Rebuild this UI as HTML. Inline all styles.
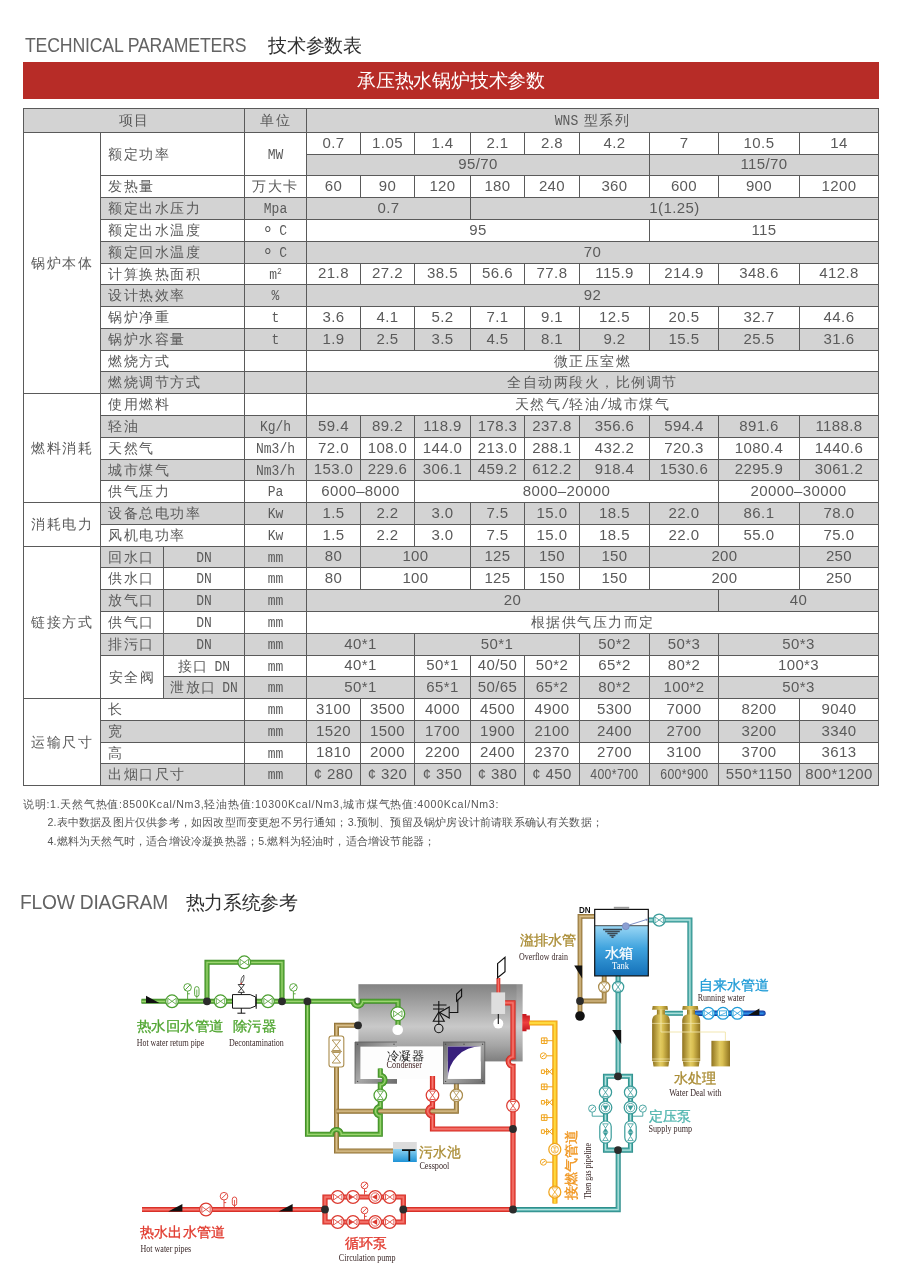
<!DOCTYPE html>
<html lang="zh"><head><meta charset="utf-8"><title>Technical Parameters</title>
<style>
html,body{margin:0;padding:0;background:#fff;}
body{width:902px;height:1280px;position:relative;overflow:hidden;font-family:"Liberation Sans",sans-serif;color:#4f4f4f;}
.h1{position:absolute;left:23px;white-space:nowrap;color:#636363;font-size:19.5px;line-height:24px;letter-spacing:-0.2px}
.h1 b{font-weight:normal;color:#2f2f2f;font-size:18.5px;letter-spacing:0;position:absolute;top:0}
.sx{display:inline-block;transform:scaleX(0.9);transform-origin:0 50%}
.banner{position:absolute;left:23px;top:62px;width:856px;height:37px;background:#b72c27;color:#fff;text-align:center;font-size:18.6px;line-height:37px;letter-spacing:-0.2px}
.c{position:absolute;box-sizing:border-box;border:1px solid #5a5a5a;background:#fff;text-align:center;font-size:14.3px;letter-spacing:1.5px;white-space:nowrap;overflow:hidden;color:#5a5a5a;font-weight:300}
.c.g{background:#d3d3d3}
.c.l{text-align:left;padding-left:7px}
.c>i{font-style:normal;position:relative;top:-0.5px}
.deg{font-size:19px;line-height:0;position:relative;top:4.5px;font-family:"Liberation Sans",sans-serif}
.m{font-family:"Liberation Mono",monospace;font-size:13px;letter-spacing:0;display:inline-block;transform:scaleY(1.08);transform-origin:50% 60%;white-space:pre;font-weight:400}
.d{font-size:15px;letter-spacing:0.4px;font-weight:400;white-space:pre;position:relative;top:-1px}
.m sup{font-size:8px;vertical-align:baseline;position:relative;top:-5px;line-height:0}
.note{position:absolute;white-space:nowrap;font-size:10.6px;line-height:14px;color:#555;letter-spacing:0.1px}
#dg{position:absolute;left:0;top:880px}
#tb{position:absolute;left:0;top:0;width:902px;height:0;will-change:transform}
</style></head><body>
<div id="tb">
<div class="h1" style="top:33px;left:24.5px"><span class="sx" style="transform:scaleX(0.907)">TECHNICAL PARAMETERS</span><b style="left:243.5px;top:1px;font-size:18.5px;letter-spacing:-0.2px">技术参数表</b></div>
<div class="banner">承压热水锅炉技术参数</div>
<div class="c g" style="left:23px;top:108px;width:222px;height:25px;line-height:23px"><i>项目</i></div>
<div class="c g" style="left:244px;top:108px;width:63px;height:25px;line-height:23px"><i>单位</i></div>
<div class="c g" style="left:306px;top:108px;width:573px;height:25px;line-height:23px"><i><span class="m">WNS</span> 型系列</i></div>
<div class="c" style="left:23px;top:132px;width:78px;height:262px;line-height:260px"><i>锅炉本体</i></div>
<div class="c" style="left:23px;top:393px;width:78px;height:110px;line-height:108px"><i>燃料消耗</i></div>
<div class="c" style="left:23px;top:502px;width:78px;height:45px;line-height:43px"><i>消耗电力</i></div>
<div class="c" style="left:23px;top:546px;width:78px;height:153px;line-height:151px"><i>链接方式</i></div>
<div class="c" style="left:23px;top:698px;width:78px;height:88px;line-height:86px"><i>运输尺寸</i></div>
<div class="c l" style="left:100px;top:132px;width:145px;height:44px;line-height:42px"><i>额定功率</i></div>
<div class="c" style="left:244px;top:132px;width:63px;height:44px;line-height:42px"><span class="m">MW</span></div>
<div class="c" style="left:306px;top:132px;width:55px;height:23px;line-height:21px"><span class="d">0.7</span></div>
<div class="c" style="left:360px;top:132px;width:55px;height:23px;line-height:21px"><span class="d">1.05</span></div>
<div class="c" style="left:414px;top:132px;width:57px;height:23px;line-height:21px"><span class="d">1.4</span></div>
<div class="c" style="left:470px;top:132px;width:55px;height:23px;line-height:21px"><span class="d">2.1</span></div>
<div class="c" style="left:524px;top:132px;width:56px;height:23px;line-height:21px"><span class="d">2.8</span></div>
<div class="c" style="left:579px;top:132px;width:71px;height:23px;line-height:21px"><span class="d">4.2</span></div>
<div class="c" style="left:649px;top:132px;width:70px;height:23px;line-height:21px"><span class="d">7</span></div>
<div class="c" style="left:718px;top:132px;width:82px;height:23px;line-height:21px"><span class="d">10.5</span></div>
<div class="c" style="left:799px;top:132px;width:80px;height:23px;line-height:21px"><span class="d">14</span></div>
<div class="c g" style="left:306px;top:154px;width:344px;height:22px;line-height:20px"><span class="d">95/70</span></div>
<div class="c g" style="left:649px;top:154px;width:230px;height:22px;line-height:20px"><span class="d">115/70</span></div>
<div class="c l" style="left:100px;top:175px;width:145px;height:23px;line-height:21px"><i>发热量</i></div>
<div class="c" style="left:244px;top:175px;width:63px;height:23px;line-height:21px"><i>万大卡</i></div>
<div class="c" style="left:306px;top:175px;width:55px;height:23px;line-height:21px"><span class="d">60</span></div>
<div class="c" style="left:360px;top:175px;width:55px;height:23px;line-height:21px"><span class="d">90</span></div>
<div class="c" style="left:414px;top:175px;width:57px;height:23px;line-height:21px"><span class="d">120</span></div>
<div class="c" style="left:470px;top:175px;width:55px;height:23px;line-height:21px"><span class="d">180</span></div>
<div class="c" style="left:524px;top:175px;width:56px;height:23px;line-height:21px"><span class="d">240</span></div>
<div class="c" style="left:579px;top:175px;width:71px;height:23px;line-height:21px"><span class="d">360</span></div>
<div class="c" style="left:649px;top:175px;width:70px;height:23px;line-height:21px"><span class="d">600</span></div>
<div class="c" style="left:718px;top:175px;width:82px;height:23px;line-height:21px"><span class="d">900</span></div>
<div class="c" style="left:799px;top:175px;width:80px;height:23px;line-height:21px"><span class="d">1200</span></div>
<div class="c g l" style="left:100px;top:197px;width:145px;height:23px;line-height:21px"><i>额定出水压力</i></div>
<div class="c g" style="left:244px;top:197px;width:63px;height:23px;line-height:21px"><span class="m">Mpa</span></div>
<div class="c g" style="left:306px;top:197px;width:165px;height:23px;line-height:21px"><span class="d">0.7</span></div>
<div class="c g" style="left:470px;top:197px;width:409px;height:23px;line-height:21px"><span class="d">1(1.25)</span></div>
<div class="c l" style="left:100px;top:219px;width:145px;height:23px;line-height:21px"><i>额定出水温度</i></div>
<div class="c" style="left:244px;top:219px;width:63px;height:23px;line-height:21px"><span class="m"><span class="deg">°</span> C</span></div>
<div class="c" style="left:306px;top:219px;width:344px;height:23px;line-height:21px"><span class="d">95</span></div>
<div class="c" style="left:649px;top:219px;width:230px;height:23px;line-height:21px"><span class="d">115</span></div>
<div class="c g l" style="left:100px;top:241px;width:145px;height:23px;line-height:21px"><i>额定回水温度</i></div>
<div class="c g" style="left:244px;top:241px;width:63px;height:23px;line-height:21px"><span class="m"><span class="deg">°</span> C</span></div>
<div class="c g" style="left:306px;top:241px;width:573px;height:23px;line-height:21px"><span class="d">70</span></div>
<div class="c l" style="left:100px;top:263px;width:145px;height:22px;line-height:20px"><i>计算换热面积</i></div>
<div class="c" style="left:244px;top:263px;width:63px;height:22px;line-height:20px"><span class="m">m<sup>2</sup></span></div>
<div class="c" style="left:306px;top:263px;width:55px;height:22px;line-height:20px"><span class="d">21.8</span></div>
<div class="c" style="left:360px;top:263px;width:55px;height:22px;line-height:20px"><span class="d">27.2</span></div>
<div class="c" style="left:414px;top:263px;width:57px;height:22px;line-height:20px"><span class="d">38.5</span></div>
<div class="c" style="left:470px;top:263px;width:55px;height:22px;line-height:20px"><span class="d">56.6</span></div>
<div class="c" style="left:524px;top:263px;width:56px;height:22px;line-height:20px"><span class="d">77.8</span></div>
<div class="c" style="left:579px;top:263px;width:71px;height:22px;line-height:20px"><span class="d">115.9</span></div>
<div class="c" style="left:649px;top:263px;width:70px;height:22px;line-height:20px"><span class="d">214.9</span></div>
<div class="c" style="left:718px;top:263px;width:82px;height:22px;line-height:20px"><span class="d">348.6</span></div>
<div class="c" style="left:799px;top:263px;width:80px;height:22px;line-height:20px"><span class="d">412.8</span></div>
<div class="c g l" style="left:100px;top:284px;width:145px;height:23px;line-height:21px"><i>设计热效率</i></div>
<div class="c g" style="left:244px;top:284px;width:63px;height:23px;line-height:21px"><span class="m">%</span></div>
<div class="c g" style="left:306px;top:284px;width:573px;height:23px;line-height:21px"><span class="d">92</span></div>
<div class="c l" style="left:100px;top:306px;width:145px;height:23px;line-height:21px"><i>锅炉净重</i></div>
<div class="c" style="left:244px;top:306px;width:63px;height:23px;line-height:21px"><span class="m">t</span></div>
<div class="c" style="left:306px;top:306px;width:55px;height:23px;line-height:21px"><span class="d">3.6</span></div>
<div class="c" style="left:360px;top:306px;width:55px;height:23px;line-height:21px"><span class="d">4.1</span></div>
<div class="c" style="left:414px;top:306px;width:57px;height:23px;line-height:21px"><span class="d">5.2</span></div>
<div class="c" style="left:470px;top:306px;width:55px;height:23px;line-height:21px"><span class="d">7.1</span></div>
<div class="c" style="left:524px;top:306px;width:56px;height:23px;line-height:21px"><span class="d">9.1</span></div>
<div class="c" style="left:579px;top:306px;width:71px;height:23px;line-height:21px"><span class="d">12.5</span></div>
<div class="c" style="left:649px;top:306px;width:70px;height:23px;line-height:21px"><span class="d">20.5</span></div>
<div class="c" style="left:718px;top:306px;width:82px;height:23px;line-height:21px"><span class="d">32.7</span></div>
<div class="c" style="left:799px;top:306px;width:80px;height:23px;line-height:21px"><span class="d">44.6</span></div>
<div class="c g l" style="left:100px;top:328px;width:145px;height:23px;line-height:21px"><i>锅炉水容量</i></div>
<div class="c g" style="left:244px;top:328px;width:63px;height:23px;line-height:21px"><span class="m">t</span></div>
<div class="c g" style="left:306px;top:328px;width:55px;height:23px;line-height:21px"><span class="d">1.9</span></div>
<div class="c g" style="left:360px;top:328px;width:55px;height:23px;line-height:21px"><span class="d">2.5</span></div>
<div class="c g" style="left:414px;top:328px;width:57px;height:23px;line-height:21px"><span class="d">3.5</span></div>
<div class="c g" style="left:470px;top:328px;width:55px;height:23px;line-height:21px"><span class="d">4.5</span></div>
<div class="c g" style="left:524px;top:328px;width:56px;height:23px;line-height:21px"><span class="d">8.1</span></div>
<div class="c g" style="left:579px;top:328px;width:71px;height:23px;line-height:21px"><span class="d">9.2</span></div>
<div class="c g" style="left:649px;top:328px;width:70px;height:23px;line-height:21px"><span class="d">15.5</span></div>
<div class="c g" style="left:718px;top:328px;width:82px;height:23px;line-height:21px"><span class="d">25.5</span></div>
<div class="c g" style="left:799px;top:328px;width:80px;height:23px;line-height:21px"><span class="d">31.6</span></div>
<div class="c l" style="left:100px;top:350px;width:145px;height:22px;line-height:20px"><i>燃烧方式</i></div>
<div class="c" style="left:244px;top:350px;width:63px;height:22px;line-height:20px"></div>
<div class="c" style="left:306px;top:350px;width:573px;height:22px;line-height:20px"><i>微正压室燃</i></div>
<div class="c g l" style="left:100px;top:371px;width:145px;height:23px;line-height:21px"><i>燃烧调节方式</i></div>
<div class="c g" style="left:244px;top:371px;width:63px;height:23px;line-height:21px"></div>
<div class="c g" style="left:306px;top:371px;width:573px;height:23px;line-height:21px"><i>全自动两段火，比例调节</i></div>
<div class="c l" style="left:100px;top:393px;width:145px;height:23px;line-height:21px"><i>使用燃料</i></div>
<div class="c" style="left:244px;top:393px;width:63px;height:23px;line-height:21px"></div>
<div class="c" style="left:306px;top:393px;width:573px;height:23px;line-height:21px"><i>天然气<span class="m">/</span>轻油<span class="m">/</span>城市煤气</i></div>
<div class="c g l" style="left:100px;top:415px;width:145px;height:23px;line-height:21px"><i>轻油</i></div>
<div class="c g" style="left:244px;top:415px;width:63px;height:23px;line-height:21px"><span class="m">Kg/h</span></div>
<div class="c g" style="left:306px;top:415px;width:55px;height:23px;line-height:21px"><span class="d">59.4</span></div>
<div class="c g" style="left:360px;top:415px;width:55px;height:23px;line-height:21px"><span class="d">89.2</span></div>
<div class="c g" style="left:414px;top:415px;width:57px;height:23px;line-height:21px"><span class="d">118.9</span></div>
<div class="c g" style="left:470px;top:415px;width:55px;height:23px;line-height:21px"><span class="d">178.3</span></div>
<div class="c g" style="left:524px;top:415px;width:56px;height:23px;line-height:21px"><span class="d">237.8</span></div>
<div class="c g" style="left:579px;top:415px;width:71px;height:23px;line-height:21px"><span class="d">356.6</span></div>
<div class="c g" style="left:649px;top:415px;width:70px;height:23px;line-height:21px"><span class="d">594.4</span></div>
<div class="c g" style="left:718px;top:415px;width:82px;height:23px;line-height:21px"><span class="d">891.6</span></div>
<div class="c g" style="left:799px;top:415px;width:80px;height:23px;line-height:21px"><span class="d">1188.8</span></div>
<div class="c l" style="left:100px;top:437px;width:145px;height:23px;line-height:21px"><i>天然气</i></div>
<div class="c" style="left:244px;top:437px;width:63px;height:23px;line-height:21px"><span class="m">Nm3/h</span></div>
<div class="c" style="left:306px;top:437px;width:55px;height:23px;line-height:21px"><span class="d">72.0</span></div>
<div class="c" style="left:360px;top:437px;width:55px;height:23px;line-height:21px"><span class="d">108.0</span></div>
<div class="c" style="left:414px;top:437px;width:57px;height:23px;line-height:21px"><span class="d">144.0</span></div>
<div class="c" style="left:470px;top:437px;width:55px;height:23px;line-height:21px"><span class="d">213.0</span></div>
<div class="c" style="left:524px;top:437px;width:56px;height:23px;line-height:21px"><span class="d">288.1</span></div>
<div class="c" style="left:579px;top:437px;width:71px;height:23px;line-height:21px"><span class="d">432.2</span></div>
<div class="c" style="left:649px;top:437px;width:70px;height:23px;line-height:21px"><span class="d">720.3</span></div>
<div class="c" style="left:718px;top:437px;width:82px;height:23px;line-height:21px"><span class="d">1080.4</span></div>
<div class="c" style="left:799px;top:437px;width:80px;height:23px;line-height:21px"><span class="d">1440.6</span></div>
<div class="c g l" style="left:100px;top:459px;width:145px;height:22px;line-height:20px"><i>城市煤气</i></div>
<div class="c g" style="left:244px;top:459px;width:63px;height:22px;line-height:20px"><span class="m">Nm3/h</span></div>
<div class="c g" style="left:306px;top:459px;width:55px;height:22px;line-height:20px"><span class="d">153.0</span></div>
<div class="c g" style="left:360px;top:459px;width:55px;height:22px;line-height:20px"><span class="d">229.6</span></div>
<div class="c g" style="left:414px;top:459px;width:57px;height:22px;line-height:20px"><span class="d">306.1</span></div>
<div class="c g" style="left:470px;top:459px;width:55px;height:22px;line-height:20px"><span class="d">459.2</span></div>
<div class="c g" style="left:524px;top:459px;width:56px;height:22px;line-height:20px"><span class="d">612.2</span></div>
<div class="c g" style="left:579px;top:459px;width:71px;height:22px;line-height:20px"><span class="d">918.4</span></div>
<div class="c g" style="left:649px;top:459px;width:70px;height:22px;line-height:20px"><span class="d">1530.6</span></div>
<div class="c g" style="left:718px;top:459px;width:82px;height:22px;line-height:20px"><span class="d">2295.9</span></div>
<div class="c g" style="left:799px;top:459px;width:80px;height:22px;line-height:20px"><span class="d">3061.2</span></div>
<div class="c l" style="left:100px;top:480px;width:145px;height:23px;line-height:21px"><i>供气压力</i></div>
<div class="c" style="left:244px;top:480px;width:63px;height:23px;line-height:21px"><span class="m">Pa</span></div>
<div class="c" style="left:306px;top:480px;width:109px;height:23px;line-height:21px"><span class="d">6000–8000</span></div>
<div class="c" style="left:414px;top:480px;width:305px;height:23px;line-height:21px"><span class="d">8000–20000</span></div>
<div class="c" style="left:718px;top:480px;width:161px;height:23px;line-height:21px"><span class="d">20000–30000</span></div>
<div class="c g l" style="left:100px;top:502px;width:145px;height:23px;line-height:21px"><i>设备总电功率</i></div>
<div class="c g" style="left:244px;top:502px;width:63px;height:23px;line-height:21px"><span class="m">Kw</span></div>
<div class="c g" style="left:306px;top:502px;width:55px;height:23px;line-height:21px"><span class="d">1.5</span></div>
<div class="c g" style="left:360px;top:502px;width:55px;height:23px;line-height:21px"><span class="d">2.2</span></div>
<div class="c g" style="left:414px;top:502px;width:57px;height:23px;line-height:21px"><span class="d">3.0</span></div>
<div class="c g" style="left:470px;top:502px;width:55px;height:23px;line-height:21px"><span class="d">7.5</span></div>
<div class="c g" style="left:524px;top:502px;width:56px;height:23px;line-height:21px"><span class="d">15.0</span></div>
<div class="c g" style="left:579px;top:502px;width:71px;height:23px;line-height:21px"><span class="d">18.5</span></div>
<div class="c g" style="left:649px;top:502px;width:70px;height:23px;line-height:21px"><span class="d">22.0</span></div>
<div class="c g" style="left:718px;top:502px;width:82px;height:23px;line-height:21px"><span class="d">86.1</span></div>
<div class="c g" style="left:799px;top:502px;width:80px;height:23px;line-height:21px"><span class="d">78.0</span></div>
<div class="c l" style="left:100px;top:524px;width:145px;height:23px;line-height:21px"><i>风机电功率</i></div>
<div class="c" style="left:244px;top:524px;width:63px;height:23px;line-height:21px"><span class="m">Kw</span></div>
<div class="c" style="left:306px;top:524px;width:55px;height:23px;line-height:21px"><span class="d">1.5</span></div>
<div class="c" style="left:360px;top:524px;width:55px;height:23px;line-height:21px"><span class="d">2.2</span></div>
<div class="c" style="left:414px;top:524px;width:57px;height:23px;line-height:21px"><span class="d">3.0</span></div>
<div class="c" style="left:470px;top:524px;width:55px;height:23px;line-height:21px"><span class="d">7.5</span></div>
<div class="c" style="left:524px;top:524px;width:56px;height:23px;line-height:21px"><span class="d">15.0</span></div>
<div class="c" style="left:579px;top:524px;width:71px;height:23px;line-height:21px"><span class="d">18.5</span></div>
<div class="c" style="left:649px;top:524px;width:70px;height:23px;line-height:21px"><span class="d">22.0</span></div>
<div class="c" style="left:718px;top:524px;width:82px;height:23px;line-height:21px"><span class="d">55.0</span></div>
<div class="c" style="left:799px;top:524px;width:80px;height:23px;line-height:21px"><span class="d">75.0</span></div>
<div class="c g l" style="left:100px;top:546px;width:64px;height:22px;line-height:20px"><i>回水口</i></div>
<div class="c g" style="left:163px;top:546px;width:82px;height:22px;line-height:20px"><span class="m">DN</span></div>
<div class="c g" style="left:244px;top:546px;width:63px;height:22px;line-height:20px"><span class="m">mm</span></div>
<div class="c g" style="left:306px;top:546px;width:55px;height:22px;line-height:20px"><span class="d">80</span></div>
<div class="c g" style="left:360px;top:546px;width:111px;height:22px;line-height:20px"><span class="d">100</span></div>
<div class="c g" style="left:470px;top:546px;width:55px;height:22px;line-height:20px"><span class="d">125</span></div>
<div class="c g" style="left:524px;top:546px;width:56px;height:22px;line-height:20px"><span class="d">150</span></div>
<div class="c g" style="left:579px;top:546px;width:71px;height:22px;line-height:20px"><span class="d">150</span></div>
<div class="c g" style="left:649px;top:546px;width:151px;height:22px;line-height:20px"><span class="d">200</span></div>
<div class="c g" style="left:799px;top:546px;width:80px;height:22px;line-height:20px"><span class="d">250</span></div>
<div class="c l" style="left:100px;top:567px;width:64px;height:23px;line-height:21px"><i>供水口</i></div>
<div class="c" style="left:163px;top:567px;width:82px;height:23px;line-height:21px"><span class="m">DN</span></div>
<div class="c" style="left:244px;top:567px;width:63px;height:23px;line-height:21px"><span class="m">mm</span></div>
<div class="c" style="left:306px;top:567px;width:55px;height:23px;line-height:21px"><span class="d">80</span></div>
<div class="c" style="left:360px;top:567px;width:111px;height:23px;line-height:21px"><span class="d">100</span></div>
<div class="c" style="left:470px;top:567px;width:55px;height:23px;line-height:21px"><span class="d">125</span></div>
<div class="c" style="left:524px;top:567px;width:56px;height:23px;line-height:21px"><span class="d">150</span></div>
<div class="c" style="left:579px;top:567px;width:71px;height:23px;line-height:21px"><span class="d">150</span></div>
<div class="c" style="left:649px;top:567px;width:151px;height:23px;line-height:21px"><span class="d">200</span></div>
<div class="c" style="left:799px;top:567px;width:80px;height:23px;line-height:21px"><span class="d">250</span></div>
<div class="c g l" style="left:100px;top:589px;width:64px;height:23px;line-height:21px"><i>放气口</i></div>
<div class="c g" style="left:163px;top:589px;width:82px;height:23px;line-height:21px"><span class="m">DN</span></div>
<div class="c g" style="left:244px;top:589px;width:63px;height:23px;line-height:21px"><span class="m">mm</span></div>
<div class="c g" style="left:306px;top:589px;width:413px;height:23px;line-height:21px"><span class="d">20</span></div>
<div class="c g" style="left:718px;top:589px;width:161px;height:23px;line-height:21px"><span class="d">40</span></div>
<div class="c l" style="left:100px;top:611px;width:64px;height:23px;line-height:21px"><i>供气口</i></div>
<div class="c" style="left:163px;top:611px;width:82px;height:23px;line-height:21px"><span class="m">DN</span></div>
<div class="c" style="left:244px;top:611px;width:63px;height:23px;line-height:21px"><span class="m">mm</span></div>
<div class="c" style="left:306px;top:611px;width:573px;height:23px;line-height:21px"><i>根据供气压力而定</i></div>
<div class="c g l" style="left:100px;top:633px;width:64px;height:23px;line-height:21px"><i>排污口</i></div>
<div class="c g" style="left:163px;top:633px;width:82px;height:23px;line-height:21px"><span class="m">DN</span></div>
<div class="c g" style="left:244px;top:633px;width:63px;height:23px;line-height:21px"><span class="m">mm</span></div>
<div class="c g" style="left:306px;top:633px;width:109px;height:23px;line-height:21px"><span class="d">40*1</span></div>
<div class="c g" style="left:414px;top:633px;width:166px;height:23px;line-height:21px"><span class="d">50*1</span></div>
<div class="c g" style="left:579px;top:633px;width:71px;height:23px;line-height:21px"><span class="d">50*2</span></div>
<div class="c g" style="left:649px;top:633px;width:70px;height:23px;line-height:21px"><span class="d">50*3</span></div>
<div class="c g" style="left:718px;top:633px;width:161px;height:23px;line-height:21px"><span class="d">50*3</span></div>
<div class="c" style="left:100px;top:655px;width:64px;height:44px;line-height:42px"><i>安全阀</i></div>
<div class="c" style="left:163px;top:655px;width:82px;height:22px;line-height:20px"><i>接口 <span class="m">DN</span></i></div>
<div class="c" style="left:244px;top:655px;width:63px;height:22px;line-height:20px"><span class="m">mm</span></div>
<div class="c" style="left:306px;top:655px;width:109px;height:22px;line-height:20px"><span class="d">40*1</span></div>
<div class="c" style="left:414px;top:655px;width:57px;height:22px;line-height:20px"><span class="d">50*1</span></div>
<div class="c" style="left:470px;top:655px;width:55px;height:22px;line-height:20px"><span class="d">40/50</span></div>
<div class="c" style="left:524px;top:655px;width:56px;height:22px;line-height:20px"><span class="d">50*2</span></div>
<div class="c" style="left:579px;top:655px;width:71px;height:22px;line-height:20px"><span class="d">65*2</span></div>
<div class="c" style="left:649px;top:655px;width:70px;height:22px;line-height:20px"><span class="d">80*2</span></div>
<div class="c" style="left:718px;top:655px;width:161px;height:22px;line-height:20px"><span class="d">100*3</span></div>
<div class="c g" style="left:163px;top:676px;width:82px;height:23px;line-height:21px"><i>泄放口 <span class="m">DN</span></i></div>
<div class="c g" style="left:244px;top:676px;width:63px;height:23px;line-height:21px"><span class="m">mm</span></div>
<div class="c g" style="left:306px;top:676px;width:109px;height:23px;line-height:21px"><span class="d">50*1</span></div>
<div class="c g" style="left:414px;top:676px;width:57px;height:23px;line-height:21px"><span class="d">65*1</span></div>
<div class="c g" style="left:470px;top:676px;width:55px;height:23px;line-height:21px"><span class="d">50/65</span></div>
<div class="c g" style="left:524px;top:676px;width:56px;height:23px;line-height:21px"><span class="d">65*2</span></div>
<div class="c g" style="left:579px;top:676px;width:71px;height:23px;line-height:21px"><span class="d">80*2</span></div>
<div class="c g" style="left:649px;top:676px;width:70px;height:23px;line-height:21px"><span class="d">100*2</span></div>
<div class="c g" style="left:718px;top:676px;width:161px;height:23px;line-height:21px"><span class="d">50*3</span></div>
<div class="c l" style="left:100px;top:698px;width:145px;height:23px;line-height:21px"><i>长</i></div>
<div class="c" style="left:244px;top:698px;width:63px;height:23px;line-height:21px"><span class="m">mm</span></div>
<div class="c" style="left:306px;top:698px;width:55px;height:23px;line-height:21px"><span class="d">3100</span></div>
<div class="c" style="left:360px;top:698px;width:55px;height:23px;line-height:21px"><span class="d">3500</span></div>
<div class="c" style="left:414px;top:698px;width:57px;height:23px;line-height:21px"><span class="d">4000</span></div>
<div class="c" style="left:470px;top:698px;width:55px;height:23px;line-height:21px"><span class="d">4500</span></div>
<div class="c" style="left:524px;top:698px;width:56px;height:23px;line-height:21px"><span class="d">4900</span></div>
<div class="c" style="left:579px;top:698px;width:71px;height:23px;line-height:21px"><span class="d">5300</span></div>
<div class="c" style="left:649px;top:698px;width:70px;height:23px;line-height:21px"><span class="d">7000</span></div>
<div class="c" style="left:718px;top:698px;width:82px;height:23px;line-height:21px"><span class="d">8200</span></div>
<div class="c" style="left:799px;top:698px;width:80px;height:23px;line-height:21px"><span class="d">9040</span></div>
<div class="c g l" style="left:100px;top:720px;width:145px;height:23px;line-height:21px"><i>宽</i></div>
<div class="c g" style="left:244px;top:720px;width:63px;height:23px;line-height:21px"><span class="m">mm</span></div>
<div class="c g" style="left:306px;top:720px;width:55px;height:23px;line-height:21px"><span class="d">1520</span></div>
<div class="c g" style="left:360px;top:720px;width:55px;height:23px;line-height:21px"><span class="d">1500</span></div>
<div class="c g" style="left:414px;top:720px;width:57px;height:23px;line-height:21px"><span class="d">1700</span></div>
<div class="c g" style="left:470px;top:720px;width:55px;height:23px;line-height:21px"><span class="d">1900</span></div>
<div class="c g" style="left:524px;top:720px;width:56px;height:23px;line-height:21px"><span class="d">2100</span></div>
<div class="c g" style="left:579px;top:720px;width:71px;height:23px;line-height:21px"><span class="d">2400</span></div>
<div class="c g" style="left:649px;top:720px;width:70px;height:23px;line-height:21px"><span class="d">2700</span></div>
<div class="c g" style="left:718px;top:720px;width:82px;height:23px;line-height:21px"><span class="d">3200</span></div>
<div class="c g" style="left:799px;top:720px;width:80px;height:23px;line-height:21px"><span class="d">3340</span></div>
<div class="c l" style="left:100px;top:742px;width:145px;height:22px;line-height:20px"><i>高</i></div>
<div class="c" style="left:244px;top:742px;width:63px;height:22px;line-height:20px"><span class="m">mm</span></div>
<div class="c" style="left:306px;top:742px;width:55px;height:22px;line-height:20px"><span class="d">1810</span></div>
<div class="c" style="left:360px;top:742px;width:55px;height:22px;line-height:20px"><span class="d">2000</span></div>
<div class="c" style="left:414px;top:742px;width:57px;height:22px;line-height:20px"><span class="d">2200</span></div>
<div class="c" style="left:470px;top:742px;width:55px;height:22px;line-height:20px"><span class="d">2400</span></div>
<div class="c" style="left:524px;top:742px;width:56px;height:22px;line-height:20px"><span class="d">2370</span></div>
<div class="c" style="left:579px;top:742px;width:71px;height:22px;line-height:20px"><span class="d">2700</span></div>
<div class="c" style="left:649px;top:742px;width:70px;height:22px;line-height:20px"><span class="d">3100</span></div>
<div class="c" style="left:718px;top:742px;width:82px;height:22px;line-height:20px"><span class="d">3700</span></div>
<div class="c" style="left:799px;top:742px;width:80px;height:22px;line-height:20px"><span class="d">3613</span></div>
<div class="c g l" style="left:100px;top:763px;width:145px;height:23px;line-height:21px"><i>出烟口尺寸</i></div>
<div class="c g" style="left:244px;top:763px;width:63px;height:23px;line-height:21px"><span class="m">mm</span></div>
<div class="c g" style="left:306px;top:763px;width:55px;height:23px;line-height:21px"><span class="d">¢ 280</span></div>
<div class="c g" style="left:360px;top:763px;width:55px;height:23px;line-height:21px"><span class="d">¢ 320</span></div>
<div class="c g" style="left:414px;top:763px;width:57px;height:23px;line-height:21px"><span class="d">¢ 350</span></div>
<div class="c g" style="left:470px;top:763px;width:55px;height:23px;line-height:21px"><span class="d">¢ 380</span></div>
<div class="c g" style="left:524px;top:763px;width:56px;height:23px;line-height:21px"><span class="d">¢ 450</span></div>
<div class="c g" style="left:579px;top:763px;width:71px;height:23px;line-height:21px"><span class="d" style="display:inline-block;transform:scaleX(0.82)">400*700</span></div>
<div class="c g" style="left:649px;top:763px;width:70px;height:23px;line-height:21px"><span class="d" style="display:inline-block;transform:scaleX(0.82)">600*900</span></div>
<div class="c g" style="left:718px;top:763px;width:82px;height:23px;line-height:21px"><span class="d">550*1150</span></div>
<div class="c g" style="left:799px;top:763px;width:80px;height:23px;line-height:21px"><span class="d">800*1200</span></div>
<div class="note" style="left:23px;top:797px;letter-spacing:0.72px">说明:1.天然气热值:8500Kcal/Nm3,轻油热值:10300Kcal/Nm3,城市煤气热值:4000Kcal/Nm3:</div>
<div class="note" style="left:47.5px;top:815px;letter-spacing:0.19px">2.表中数据及图片仅供参考，如因改型而变更恕不另行通知；3.预制、预留及锅炉房设计前请联系确认有关数据；</div>
<div class="note" style="left:47.5px;top:834px;letter-spacing:0.19px">4.燃料为天然气时，适合增设冷凝换热器；5.燃料为轻油时，适合增设节能器；</div>
<div class="h1" style="top:890px;left:20px"><span class="sx" style="transform:scaleX(0.984)">FLOW DIAGRAM</span><b style="left:165.6px;top:1px;font-size:18.5px;letter-spacing:-0.3px">热力系统参考</b></div>
<svg id="dg" width="902" height="400" viewBox="0 880 902 400" font-family="'Liberation Sans',sans-serif">
<defs>
<linearGradient id="boil" x1="0" y1="0" x2="0" y2="1"><stop offset="0" stop-color="#838383"/><stop offset="0.18" stop-color="#999"/><stop offset="0.55" stop-color="#c9c9c9"/><stop offset="0.8" stop-color="#a4a4a4"/><stop offset="1" stop-color="#7e7e7e"/></linearGradient>
<linearGradient id="frm" x1="0" y1="0" x2="1" y2="1"><stop offset="0" stop-color="#6f6f6f"/><stop offset="0.5" stop-color="#a9a9a9"/><stop offset="1" stop-color="#6a6a6a"/></linearGradient>
<linearGradient id="water" x1="0" y1="0" x2="0" y2="1"><stop offset="0" stop-color="#9ad7f5"/><stop offset="0.45" stop-color="#3fa3de"/><stop offset="1" stop-color="#1470b8"/></linearGradient>
<linearGradient id="cess" x1="0" y1="0" x2="0" y2="1"><stop offset="0" stop-color="#8fd3f2"/><stop offset="1" stop-color="#1f93d6"/></linearGradient>
<linearGradient id="gold" x1="0" y1="0" x2="1" y2="0"><stop offset="0" stop-color="#8f7320"/><stop offset="0.45" stop-color="#e2cb62"/><stop offset="0.6" stop-color="#d9bf52"/><stop offset="1" stop-color="#8f7320"/></linearGradient>
<linearGradient id="redn" x1="0" y1="0" x2="0" y2="1"><stop offset="0" stop-color="#c4161c"/><stop offset="0.5" stop-color="#ee4040"/><stop offset="1" stop-color="#c4161c"/></linearGradient>
</defs>
<rect x="358.4" y="984.2" width="164.2" height="77.2" fill="url(#boil)"/>
<rect x="516.5" y="984.2" width="6.1" height="77.2" fill="#fff" opacity="0.12"/>
<path d="M522.3 1014h4.2v1.6h3.4v14h-3.4v1.6h-4.2z" fill="url(#redn)"/>
<path d="M358 1025.3H336.5V1151H393.5" fill="none" stroke="#8f7236" stroke-width="5" stroke-linejoin="miter"/>
<path d="M358 1025.3H336.5V1151H393.5" fill="none" stroke="#b5955a" stroke-width="3.3" stroke-linejoin="miter"/>
<path d="M358 1025.3H336.5V1151H393.5" fill="none" stroke="#d6be8a" stroke-width="1.25" stroke-linejoin="miter"/>
<path d="M336.5 1111.2H456.4V1083" fill="none" stroke="#8f7236" stroke-width="5" stroke-linejoin="miter"/>
<path d="M336.5 1111.2H456.4V1083" fill="none" stroke="#b5955a" stroke-width="3.3" stroke-linejoin="miter"/>
<path d="M336.5 1111.2H456.4V1083" fill="none" stroke="#d6be8a" stroke-width="1.25" stroke-linejoin="miter"/>
<path d="M595 916.4H580V1016" fill="none" stroke="#8f7236" stroke-width="4.8" stroke-linejoin="miter"/>
<path d="M595 916.4H580V1016" fill="none" stroke="#b5955a" stroke-width="3.17" stroke-linejoin="miter"/>
<path d="M595 916.4H580V1016" fill="none" stroke="#d6be8a" stroke-width="1.2" stroke-linejoin="miter"/>
<path d="M604.2 976V1001H580" fill="none" stroke="#8f7236" stroke-width="4.8" stroke-linejoin="miter"/>
<path d="M604.2 976V1001H580" fill="none" stroke="#b5955a" stroke-width="3.17" stroke-linejoin="miter"/>
<path d="M604.2 976V1001H580" fill="none" stroke="#d6be8a" stroke-width="1.2" stroke-linejoin="miter"/>
<rect x="360" y="1046.4" width="84" height="32.4" fill="#fdfdfd"/>
<path d="M355 1042H397V1046.6H360.4V1079H397V1083.8H355Z" fill="url(#frm)"/>
<path d="M355 1042H397M355 1042V1083.8" stroke="#5e5e5e" stroke-width="0.8" fill="none"/>
<path d="M443.4 1042H484.8V1083.8H443.4Z M447.8 1046.4V1078.8H480.7V1046.4Z" fill="url(#frm)" fill-rule="evenodd"/>
<rect x="443.4" y="1042" width="41.4" height="41.8" fill="none" stroke="#5e5e5e" stroke-width="0.8"/>
<rect x="447.8" y="1046.4" width="32.9" height="32.4" fill="#fff"/>
<path d="M447.8 1046.4H480.7A32.9 32.4 0 0 0 447.8 1078.8Z" fill="#38207c"/>
<circle cx="357.6" cy="1044.2" r="0.7" fill="#4a4a4a"/>
<circle cx="394" cy="1044.2" r="0.7" fill="#4a4a4a"/>
<circle cx="357.6" cy="1081.4" r="0.7" fill="#4a4a4a"/>
<circle cx="445.6" cy="1044.2" r="0.7" fill="#4a4a4a"/>
<circle cx="482.6" cy="1044.2" r="0.7" fill="#4a4a4a"/>
<circle cx="445.6" cy="1081.4" r="0.7" fill="#4a4a4a"/>
<circle cx="482.6" cy="1081.4" r="0.7" fill="#4a4a4a"/>
<circle cx="464" cy="1044.2" r="0.7" fill="#4a4a4a"/>
<path d="M141.5 1001.3H353a4.8 4.8 0 0 0 9.6 0H398V1026" fill="none" stroke="#3f8c26" stroke-width="5.1" stroke-linejoin="miter"/>
<path d="M141.5 1001.3H353a4.8 4.8 0 0 0 9.6 0H398V1026" fill="none" stroke="#5aaa38" stroke-width="3.37" stroke-linejoin="miter"/>
<path d="M141.5 1001.3H353a4.8 4.8 0 0 0 9.6 0H398V1026" fill="none" stroke="#9cd472" stroke-width="1.27" stroke-linejoin="miter"/>
<path d="M207 1001.3V962.3H282V1001.3" fill="none" stroke="#3f8c26" stroke-width="5.1" stroke-linejoin="miter"/>
<path d="M207 1001.3V962.3H282V1001.3" fill="none" stroke="#5aaa38" stroke-width="3.37" stroke-linejoin="miter"/>
<path d="M207 1001.3V962.3H282V1001.3" fill="none" stroke="#9cd472" stroke-width="1.27" stroke-linejoin="miter"/>
<path d="M307.5 1001.3V1134.3H331.7a4.8 4.8 0 0 1 9.6 0H380.3V1116a4.8 4.8 0 0 1 0 -9.6V1084.8a4.8 4.8 0 0 0 0 -9.6V1068.6" fill="none" stroke="#3f8c26" stroke-width="5.1" stroke-linejoin="miter"/>
<path d="M307.5 1001.3V1134.3H331.7a4.8 4.8 0 0 1 9.6 0H380.3V1116a4.8 4.8 0 0 1 0 -9.6V1084.8a4.8 4.8 0 0 0 0 -9.6V1068.6" fill="none" stroke="#5aaa38" stroke-width="3.37" stroke-linejoin="miter"/>
<path d="M307.5 1001.3V1134.3H331.7a4.8 4.8 0 0 1 9.6 0H380.3V1116a4.8 4.8 0 0 1 0 -9.6V1084.8a4.8 4.8 0 0 0 0 -9.6V1068.6" fill="none" stroke="#9cd472" stroke-width="1.27" stroke-linejoin="miter"/>
<circle cx="397.7" cy="1029.8" r="5.3" fill="#fff"/>
<path d="M498.4 978V993" fill="none" stroke="#d32a22" stroke-width="3.8" stroke-linejoin="miter"/>
<path d="M498.4 978V993" fill="none" stroke="#e84a41" stroke-width="2.51" stroke-linejoin="miter"/>
<path d="M498.4 978V993" fill="none" stroke="#f47a72" stroke-width="0.95" stroke-linejoin="miter"/>
<path d="M504 1002.8H513V1056.8a4.8 4.8 0 0 0 0 9.6V1209.5" fill="none" stroke="#d32a22" stroke-width="5.2" stroke-linejoin="miter"/>
<path d="M504 1002.8H513V1056.8a4.8 4.8 0 0 0 0 9.6V1209.5" fill="none" stroke="#e84a41" stroke-width="3.43" stroke-linejoin="miter"/>
<path d="M504 1002.8H513V1056.8a4.8 4.8 0 0 0 0 9.6V1209.5" fill="none" stroke="#f47a72" stroke-width="1.3" stroke-linejoin="miter"/>
<path d="M432.5 1076V1106.4a4.8 4.8 0 0 0 0 9.6V1129H513" fill="none" stroke="#d32a22" stroke-width="5.2" stroke-linejoin="miter"/>
<path d="M432.5 1076V1106.4a4.8 4.8 0 0 0 0 9.6V1129H513" fill="none" stroke="#e84a41" stroke-width="3.43" stroke-linejoin="miter"/>
<path d="M432.5 1076V1106.4a4.8 4.8 0 0 0 0 9.6V1129H513" fill="none" stroke="#f47a72" stroke-width="1.3" stroke-linejoin="miter"/>
<path d="M142 1209.5H325M403.3 1209.5H513" fill="none" stroke="#d32a22" stroke-width="5.2" stroke-linejoin="miter"/>
<path d="M142 1209.5H325M403.3 1209.5H513" fill="none" stroke="#e84a41" stroke-width="3.43" stroke-linejoin="miter"/>
<path d="M142 1209.5H325M403.3 1209.5H513" fill="none" stroke="#f47a72" stroke-width="1.3" stroke-linejoin="miter"/>
<path d="M325 1197H403.3V1222H325Z" fill="none" stroke="#d32a22" stroke-width="5.2" stroke-linejoin="miter"/>
<path d="M325 1197H403.3V1222H325Z" fill="none" stroke="#e84a41" stroke-width="3.43" stroke-linejoin="miter"/>
<path d="M325 1197H403.3V1222H325Z" fill="none" stroke="#f47a72" stroke-width="1.3" stroke-linejoin="miter"/>
<rect x="491.3" y="992.4" width="13.8" height="21.6" fill="#dedede"/>
<circle cx="498.3" cy="1023.6" r="5" fill="#fff"/>
<path d="M498.3 1014V1024" stroke="#111" stroke-width="1.1"/>
<path d="M497.6 963.6L505 957.4V971.6L497.6 977.8Z" fill="#fff" stroke="#111" stroke-width="1.2" stroke-linejoin="miter"/>
<path d="M618.1 976V1076" fill="none" stroke="#2f8f8c" stroke-width="5.1" stroke-linejoin="miter"/>
<path d="M618.1 976V1076" fill="none" stroke="#4fadaa" stroke-width="3.37" stroke-linejoin="miter"/>
<path d="M618.1 976V1076" fill="none" stroke="#b4e2de" stroke-width="1.27" stroke-linejoin="miter"/>
<path d="M605.5 1076.3H630.5V1150.1H605.5Z" fill="none" stroke="#2f8f8c" stroke-width="5.1" stroke-linejoin="miter"/>
<path d="M605.5 1076.3H630.5V1150.1H605.5Z" fill="none" stroke="#4fadaa" stroke-width="3.37" stroke-linejoin="miter"/>
<path d="M605.5 1076.3H630.5V1150.1H605.5Z" fill="none" stroke="#b4e2de" stroke-width="1.27" stroke-linejoin="miter"/>
<path d="M618.2 1150.2V1209.6H513" fill="none" stroke="#2f8f8c" stroke-width="5.1" stroke-linejoin="miter"/>
<path d="M618.2 1150.2V1209.6H513" fill="none" stroke="#4fadaa" stroke-width="3.37" stroke-linejoin="miter"/>
<path d="M618.2 1150.2V1209.6H513" fill="none" stroke="#b4e2de" stroke-width="1.27" stroke-linejoin="miter"/>
<path d="M648.5 920H689.9V1006.5" fill="none" stroke="#2f8f8c" stroke-width="5.1" stroke-linejoin="miter"/>
<path d="M648.5 920H689.9V1006.5" fill="none" stroke="#4fadaa" stroke-width="3.37" stroke-linejoin="miter"/>
<path d="M648.5 920H689.9V1006.5" fill="none" stroke="#b4e2de" stroke-width="1.27" stroke-linejoin="miter"/>
<path d="M665 1013.3H683" fill="none" stroke="#2f8f8c" stroke-width="5" stroke-linejoin="miter"/>
<path d="M665 1013.3H683" fill="none" stroke="#4fadaa" stroke-width="3.3" stroke-linejoin="miter"/>
<path d="M665 1013.3H683" fill="none" stroke="#b4e2de" stroke-width="1.25" stroke-linejoin="miter"/>
<path d="M696 1013.3H763" stroke="#1b3fa0" stroke-width="5.4" stroke-linecap="round" fill="none"/>
<path d="M696 1013.3H763" stroke="#1c66c8" stroke-width="3.4" stroke-linecap="round" fill="none"/>
<path d="M696 1013.3H763" stroke="#2f8fe2" stroke-width="1.2" stroke-linecap="round" fill="none"/>
<path d="M529.5 1023H554.9V1203.5" fill="none" stroke="#ef9c10" stroke-width="5.2" stroke-linejoin="miter"/>
<path d="M529.5 1023H554.9V1203.5" fill="none" stroke="#f9bd24" stroke-width="3.43" stroke-linejoin="miter"/>
<path d="M529.5 1023H554.9V1203.5" fill="none" stroke="#ffe24a" stroke-width="1.3" stroke-linejoin="miter"/>
<rect x="594.7" y="909.4" width="53.6" height="66.5" fill="#fff"/>
<rect x="594.7" y="925.7" width="53.6" height="50.2" fill="url(#water)"/>
<rect x="594.7" y="909.4" width="53.6" height="66.5" fill="none" stroke="#111" stroke-width="1.2"/>
<path d="M594.7 925.7H648.3" stroke="#222" stroke-width="0.8"/>
<rect x="613.8" y="906.8" width="15.4" height="2.2" fill="#9a9a9a"/>
<path d="M603 929.6H622M605.2 931.6H619.8M607.4 933.5H617.6M609.6 935.4H615.4M611.4 937.2H613.6" stroke="#3c4a55" stroke-width="1.5"/>
<path d="M626 926L647 919.4" stroke="#7d8fc4" stroke-width="1"/>
<path d="M645.5 918.6l2.6 0.6-1.6 2z" fill="#7d8fc4"/>
<circle cx="625.8" cy="926.2" r="3.5" fill="#8c9fd2" stroke="#6a7fb8" stroke-width="0.6"/>
<path d="M652.7 1005.9h14.699999999999932l0.6 3.8h-15.899999999999931z" fill="url(#gold)"/>
<rect x="656.9" y="1009.6" width="8" height="5.4" fill="url(#gold)"/>
<path d="M652.1 1021C652.1 1016.5 654.6 1014.4 657.6 1014.4H664.3C667.3 1014.4 669.8 1016.5 669.8 1021V1061H652.1Z" fill="url(#gold)"/>
<path d="M652.7 1061H669.1999999999999L668.4 1066.6H653.5Z" fill="url(#gold)"/>
<path d="M652.1 1023.4H669.8M652.1 1059H669.8M652.1 1061.4H669.8" stroke="#fff8d0" stroke-width="0.6" opacity="0.9"/>
<path d="M682.8000000000001 1005.9h15.0l0.6 3.8h-16.2z" fill="url(#gold)"/>
<rect x="687.0" y="1009.6" width="8" height="5.4" fill="url(#gold)"/>
<path d="M682.2 1021C682.2 1016.5 684.7 1014.4 687.7 1014.4H694.7C697.7 1014.4 700.2 1016.5 700.2 1021V1061H682.2Z" fill="url(#gold)"/>
<path d="M682.8000000000001 1061H699.6L698.8000000000001 1066.6H683.6Z" fill="url(#gold)"/>
<path d="M682.2 1023.4H700.2M682.2 1059H700.2M682.2 1061.4H700.2" stroke="#fff8d0" stroke-width="0.6" opacity="0.9"/>
<rect x="711.4" y="1040.8" width="18.6" height="25.6" fill="url(#gold)"/>
<path d="M661 1009.6V1032H725.4V1040.8M690.9 1009.6V1032" fill="none" stroke="#f0e4a8" stroke-width="0.9"/>
<rect x="393" y="1142" width="23.8" height="7" fill="#dcdcdc"/>
<rect x="393" y="1149" width="23.8" height="13" fill="url(#cess)"/>
<path d="M402 1150.2H415.4M409.3 1150.2V1161" stroke="#111" stroke-width="1.7"/>
<rect x="329" y="1036" width="14.8" height="31" rx="2.5" fill="#fff" stroke="#a98b4b" stroke-width="1.1"/>
<path d="M332.2 1040H340.6L332.2 1050.5H340.6ZM332.2 1052.5H340.6L332.2 1063H340.6Z" fill="none" stroke="#a98b4b" stroke-width="0.9" stroke-linejoin="round"/>
<path d="M331 1051.5H342" stroke="#a98b4b" stroke-width="0.8"/>
<g fill="none" stroke="#111" stroke-width="1.1">
<path d="M438.8 1001V1024.3M433 1005H446.5M433 1009H444"/>
<path d="M438.8 1012L433.3 1021.3H444.3Z"/>
<path d="M439.6 1012.5L449.2 1007V1018Z"/>
<path d="M449.2 1012.5H457.8V1000"/>
<path d="M456.6 1001.2V994L461.6 989.2V996.4Z"/>
<circle cx="438.8" cy="1028.5" r="4.2"/>
</g>
<g fill="#fff" stroke="#111" stroke-width="1">
<path d="M232.5 994.6H250.2L255.8 997.1V1006L250.2 1008.2H232.5Z"/>
<path d="M256.2 994.2V1008.8M241.3 1008.2V1013.2M237.4 1013.2H245.4M241.3 992.4V994.6" fill="none"/>
<path d="M238.2 984.5H244.4L238.2 992.4H244.4Z" stroke-width="0.8"/>
<path d="M241.2 983.6C240.4 980 241.6 977 243.8 975.2C244.4 978.4 243.4 981.6 241.2 983.6Z" stroke-width="0.7"/>
</g>
<circle cx="241.2" cy="983.6" r="0.8" fill="#e8382e"/>
<g transform="translate(172 1001.3)">
<circle r="6.3" fill="#fff" stroke="#4b9e2f" stroke-width="1.25"/>
<path d="M-4.2 -3L4.2 3V-3L-4.2 3Z" fill="none" stroke="#4b9e2f" stroke-width="0.8" stroke-linejoin="round"/>
</g>
<g transform="translate(220.5 1001.3)">
<circle r="6.3" fill="#fff" stroke="#4b9e2f" stroke-width="1.25"/>
<path d="M-4.2 -3L4.2 3V-3L-4.2 3Z" fill="none" stroke="#4b9e2f" stroke-width="0.8" stroke-linejoin="round"/>
</g>
<g transform="translate(268 1001.3)">
<circle r="6.3" fill="#fff" stroke="#4b9e2f" stroke-width="1.25"/>
<path d="M-4.2 -3L4.2 3V-3L-4.2 3Z" fill="none" stroke="#4b9e2f" stroke-width="0.8" stroke-linejoin="round"/>
</g>
<g transform="translate(244.3 962.3)">
<circle r="6.3" fill="#fff" stroke="#4b9e2f" stroke-width="1.25"/>
<path d="M-4.2 -3L4.2 3V-3L-4.2 3Z" fill="none" stroke="#4b9e2f" stroke-width="0.8" stroke-linejoin="round"/>
</g>
<g transform="translate(397.8 1013.8)">
<circle r="6.9" fill="#fff" stroke="#4b9e2f" stroke-width="1.25"/>
<path d="M-4.2 -3L4.2 3V-3L-4.2 3Z" fill="none" stroke="#4b9e2f" stroke-width="0.8" stroke-linejoin="round"/>
</g>
<g transform="translate(380.3 1095.3) rotate(90)">
<circle r="6.3" fill="#fff" stroke="#4b9e2f" stroke-width="1.25"/>
<path d="M-4.2 -3L4.2 3V-3L-4.2 3Z" fill="none" stroke="#4b9e2f" stroke-width="0.8" stroke-linejoin="round"/>
</g>
<g transform="translate(456.4 1095.3) rotate(90)">
<circle r="6.1" fill="#fff" stroke="#a98b4b" stroke-width="1.25"/>
<path d="M-4.2 -3L4.2 3V-3L-4.2 3Z" fill="none" stroke="#a98b4b" stroke-width="0.8" stroke-linejoin="round"/>
</g>
<g transform="translate(604.2 987) rotate(90)">
<circle r="5.6" fill="#fff" stroke="#a98b4b" stroke-width="1.25"/>
<path d="M-4.2 -3L4.2 3V-3L-4.2 3Z" fill="none" stroke="#a98b4b" stroke-width="0.8" stroke-linejoin="round"/>
</g>
<g transform="translate(618.1 987) rotate(90)">
<circle r="5.6" fill="#fff" stroke="#3a9c9a" stroke-width="1.25"/>
<path d="M-4.2 -3L4.2 3V-3L-4.2 3Z" fill="none" stroke="#3a9c9a" stroke-width="0.8" stroke-linejoin="round"/>
</g>
<g transform="translate(659.2 920)">
<circle r="6" fill="#fff" stroke="#3a9c9a" stroke-width="1.25"/>
<path d="M-4.2 -3L4.2 3V-3L-4.2 3Z" fill="none" stroke="#3a9c9a" stroke-width="0.8" stroke-linejoin="round"/>
</g>
<g transform="translate(206 1209.5)">
<circle r="6.3" fill="#fff" stroke="#dc3a30" stroke-width="1.25"/>
<path d="M-4.2 -3L4.2 3V-3L-4.2 3Z" fill="none" stroke="#dc3a30" stroke-width="0.8" stroke-linejoin="round"/>
</g>
<g transform="translate(432.5 1095.3) rotate(90)">
<circle r="6.3" fill="#fff" stroke="#dc3a30" stroke-width="1.25"/>
<path d="M-4.2 -3L4.2 3V-3L-4.2 3Z" fill="none" stroke="#dc3a30" stroke-width="0.8" stroke-linejoin="round"/>
</g>
<g transform="translate(513 1105.7) rotate(90)">
<circle r="6.3" fill="#fff" stroke="#dc3a30" stroke-width="1.25"/>
<path d="M-4.2 -3L4.2 3V-3L-4.2 3Z" fill="none" stroke="#dc3a30" stroke-width="0.8" stroke-linejoin="round"/>
</g>
<g transform="translate(337.7 1197)">
<circle r="6.3" fill="#fff" stroke="#dc3a30" stroke-width="1.25"/>
<path d="M-4.2 -3L4.2 3V-3L-4.2 3Z" fill="none" stroke="#dc3a30" stroke-width="0.8" stroke-linejoin="round"/>
</g>
<g transform="translate(353 1197)">
<circle r="6.3" fill="#fff" stroke="#dc3a30" stroke-width="1.25"/>
<path d="M-4 -2.8L0 0L-4 2.8Z" fill="#dc3a30" stroke="#dc3a30" stroke-width="0.8" stroke-linejoin="round"/>
<path d="M4 -2.8L0 0L4 2.8Z" fill="none" stroke="#dc3a30" stroke-width="0.8" stroke-linejoin="round"/>
</g>
<g transform="translate(375.2 1197)">
<circle r="6.3" fill="#fff" stroke="#dc3a30" stroke-width="1.25"/>
<circle r="4.2" fill="none" stroke="#dc3a30" stroke-width="0.8"/>
<path d="M-3.2 0L2 -3V3Z" fill="#dc3a30"/>
</g>
<g transform="translate(389.7 1197)">
<circle r="6.3" fill="#fff" stroke="#dc3a30" stroke-width="1.25"/>
<path d="M-4.2 -3L4.2 3V-3L-4.2 3Z" fill="none" stroke="#dc3a30" stroke-width="0.8" stroke-linejoin="round"/>
</g>
<g fill="none" stroke="#dc3a30" stroke-width="0.9">
<circle cx="364.5" cy="1185.4" r="3.4" fill="#fff"/>
<path d="M362.1 1187.8000000000002L366.9 1183.0"/>
<path d="M364.5 1188.8000000000002V1194.5 M364.5 1191.4h2.2"/>
</g>
<g transform="translate(337.7 1222)">
<circle r="6.3" fill="#fff" stroke="#dc3a30" stroke-width="1.25"/>
<path d="M-4.2 -3L4.2 3V-3L-4.2 3Z" fill="none" stroke="#dc3a30" stroke-width="0.8" stroke-linejoin="round"/>
</g>
<g transform="translate(353 1222)">
<circle r="6.3" fill="#fff" stroke="#dc3a30" stroke-width="1.25"/>
<path d="M-4 -2.8L0 0L-4 2.8Z" fill="#dc3a30" stroke="#dc3a30" stroke-width="0.8" stroke-linejoin="round"/>
<path d="M4 -2.8L0 0L4 2.8Z" fill="none" stroke="#dc3a30" stroke-width="0.8" stroke-linejoin="round"/>
</g>
<g transform="translate(375.2 1222)">
<circle r="6.3" fill="#fff" stroke="#dc3a30" stroke-width="1.25"/>
<circle r="4.2" fill="none" stroke="#dc3a30" stroke-width="0.8"/>
<path d="M-3.2 0L2 -3V3Z" fill="#dc3a30"/>
</g>
<g transform="translate(389.7 1222)">
<circle r="6.3" fill="#fff" stroke="#dc3a30" stroke-width="1.25"/>
<path d="M-4.2 -3L4.2 3V-3L-4.2 3Z" fill="none" stroke="#dc3a30" stroke-width="0.8" stroke-linejoin="round"/>
</g>
<g fill="none" stroke="#dc3a30" stroke-width="0.9">
<circle cx="364.5" cy="1210.4" r="3.4" fill="#fff"/>
<path d="M362.1 1212.8000000000002L366.9 1208.0"/>
<path d="M364.5 1213.8000000000002V1219.5 M364.5 1216.4h2.2"/>
</g>
<g transform="translate(605.5 1092.3) rotate(90)">
<circle r="6.1" fill="#fff" stroke="#3a9c9a" stroke-width="1.25"/>
<path d="M-4.2 -3L4.2 3V-3L-4.2 3Z" fill="none" stroke="#3a9c9a" stroke-width="0.8" stroke-linejoin="round"/>
</g>
<g transform="translate(605.5 1107.6) rotate(-90)">
<circle r="6.3" fill="#fff" stroke="#3a9c9a" stroke-width="1.25"/>
<circle r="4.2" fill="none" stroke="#3a9c9a" stroke-width="0.8"/>
<path d="M-3.2 0L2 -3V3Z" fill="#3a9c9a"/>
</g>
<rect x="599.8" y="1121" width="11.4" height="22.2" rx="5.6" fill="#fff" stroke="#3a9c9a" stroke-width="1.2"/>
<path d="M602.7 1123.8h5.6l-2.8 4.2zM602.7 1140.6h5.6l-2.8-4.2z" fill="none" stroke="#3a9c9a" stroke-width="0.8" stroke-linejoin="round"/>
<path d="M605.5 1128l2.9 4.2l-2.9 4.2l-2.9-4.2z" fill="#3a9c9a"/>
<path d="M602.6 1132.2h5.8" stroke="#fff" stroke-width="0.5"/>
<g transform="translate(630.5 1092.3) rotate(90)">
<circle r="6.1" fill="#fff" stroke="#3a9c9a" stroke-width="1.25"/>
<path d="M-4.2 -3L4.2 3V-3L-4.2 3Z" fill="none" stroke="#3a9c9a" stroke-width="0.8" stroke-linejoin="round"/>
</g>
<g transform="translate(630.5 1107.6) rotate(-90)">
<circle r="6.3" fill="#fff" stroke="#3a9c9a" stroke-width="1.25"/>
<circle r="4.2" fill="none" stroke="#3a9c9a" stroke-width="0.8"/>
<path d="M-3.2 0L2 -3V3Z" fill="#3a9c9a"/>
</g>
<rect x="624.8" y="1121" width="11.4" height="22.2" rx="5.6" fill="#fff" stroke="#3a9c9a" stroke-width="1.2"/>
<path d="M627.7 1123.8h5.6l-2.8 4.2zM627.7 1140.6h5.6l-2.8-4.2z" fill="none" stroke="#3a9c9a" stroke-width="0.8" stroke-linejoin="round"/>
<path d="M630.5 1128l2.9 4.2l-2.9 4.2l-2.9-4.2z" fill="#3a9c9a"/>
<path d="M627.6 1132.2h5.8" stroke="#fff" stroke-width="0.5"/>
<g fill="#fff" stroke="#3a9c9a" stroke-width="0.9"><path d="M592.2 1112.2V1116.2H603M642.8 1112.2V1116.2H633" fill="none"/><circle cx="592.2" cy="1108.6" r="3.6"/><circle cx="642.8" cy="1108.6" r="3.6"/><path d="M590.2 1110.6L594.2 1106.6M640.8 1110.6L644.8 1106.6"/></g>
<g transform="translate(708.4 1013.3)">
<circle r="5.9" fill="#fff" stroke="#1f9bd8" stroke-width="1.25"/>
<path d="M-4.2 -3L4.2 3V-3L-4.2 3Z" fill="none" stroke="#1f9bd8" stroke-width="0.8" stroke-linejoin="round"/>
</g>
<g transform="translate(723 1013.3)">
<circle r="5.9" fill="#fff" stroke="#1f9bd8" stroke-width="1.25"/>
<rect x="-3.6" y="-2.4" width="7.2" height="4.8" fill="none" stroke="#1f9bd8" stroke-width="0.8"/>
<path d="M-3.6 2.4L3.6 -1" fill="none" stroke="#1f9bd8" stroke-width="0.7"/>
</g>
<g transform="translate(737.3 1013.3)">
<circle r="5.9" fill="#fff" stroke="#1f9bd8" stroke-width="1.25"/>
<path d="M-4.2 -3L4.2 3V-3L-4.2 3Z" fill="none" stroke="#1f9bd8" stroke-width="0.8" stroke-linejoin="round"/>
</g>
<g transform="translate(554.8 1149.4)">
<circle r="6" fill="#fff" stroke="#f0a41c" stroke-width="1.25"/>
<circle r="3.6" fill="none" stroke="#f0a41c" stroke-width="0.8"/>
<path d="M-1.6 -1.6H1.6M0 -1.6V1.8M-1.6 1.8H1.6" fill="none" stroke="#f0a41c" stroke-width="0.7"/>
</g>
<g transform="translate(554.8 1192) rotate(90)">
<circle r="6" fill="#fff" stroke="#f0a41c" stroke-width="1.25"/>
<path d="M-4.2 -3L4.2 3V-3L-4.2 3Z" fill="none" stroke="#f0a41c" stroke-width="0.8" stroke-linejoin="round"/>
</g>
<g fill="none" stroke="#4b9e2f" stroke-width="0.9">
<circle cx="187.6" cy="987.4" r="3.8" fill="#fff"/>
<path d="M185.2 989.8L190.0 985.0"/>
<path d="M187.6 991.1999999999999V999 M187.6 993.8h2.2"/>
</g>
<rect x="194.60000000000002" y="986.6" width="4.4" height="10.0" rx="2.2" fill="#fff" stroke="#4b9e2f" stroke-width="0.9"/>
<path d="M196.8 989.6V998.6" stroke="#4b9e2f" stroke-width="0.8"/>
<g fill="none" stroke="#4b9e2f" stroke-width="0.9">
<circle cx="293.4" cy="987.4" r="3.8" fill="#fff"/>
<path d="M291.0 989.8L295.79999999999995 985.0"/>
<path d="M293.4 991.1999999999999V999 M293.4 993.8h2.2"/>
</g>
<g fill="none" stroke="#dc3a30" stroke-width="0.9">
<circle cx="224" cy="1196.2" r="3.8" fill="#fff"/>
<path d="M221.6 1198.6000000000001L226.4 1193.8"/>
<path d="M224 1200.0V1207 M224 1202.6h2.2"/>
</g>
<rect x="232.3" y="1197" width="4.4" height="8.599999999999909" rx="2.2" fill="#fff" stroke="#dc3a30" stroke-width="0.9"/>
<path d="M234.5 1200V1207.6" stroke="#dc3a30" stroke-width="0.8"/>
<g fill="none" stroke="#f0a41c" stroke-width="1">
<path d="M541.4 1037.9h5.6v5.6h-5.6zM547 1040.7H553M541.4 1040.7h5.6M544.2 1037.9v5.6"/>
<circle cx="543.4" cy="1055.8" r="3"/><path d="M546.4 1055.8H553M541.8 1057.0l3.2-2.4"/>
<path d="M546.6 1068.5v6.4l6-6.4v6.4zM541.4 1069.9h3v3.6h-3zM544.4 1071.7H549.6"/>
<path d="M541.4 1084.0h5.6v5.6h-5.6zM547 1086.8H553M541.4 1086.8h5.6M544.2 1084.0v5.6"/>
<path d="M546.6 1099.1v6.4l6-6.4v6.4zM541.4 1100.5h3v3.6h-3zM544.4 1102.3H549.6"/>
<path d="M541.4 1114.8h5.6v5.6h-5.6zM547 1117.6H553M541.4 1117.6h5.6M544.2 1114.8v5.6"/>
<path d="M546.6 1128.3999999999999v6.4l6-6.4v6.4zM541.4 1129.8h3v3.6h-3zM544.4 1131.6H549.6"/>
<circle cx="543.4" cy="1162.2" r="3"/><path d="M546.4 1162.2H553M541.8 1163.4l3.2-2.4"/>
</g>
<circle cx="207" cy="1001.3" r="3.9" fill="#2b2b2b"/>
<circle cx="282" cy="1001.3" r="3.9" fill="#2b2b2b"/>
<circle cx="307.4" cy="1001.3" r="3.9" fill="#2b2b2b"/>
<circle cx="358" cy="1025.3" r="3.9" fill="#2b2b2b"/>
<circle cx="325" cy="1209.5" r="3.9" fill="#2b2b2b"/>
<circle cx="403.3" cy="1209.5" r="3.9" fill="#2b2b2b"/>
<circle cx="513" cy="1129" r="3.9" fill="#2b2b2b"/>
<circle cx="513" cy="1209.5" r="3.9" fill="#2b2b2b"/>
<circle cx="618" cy="1076.3" r="3.9" fill="#2b2b2b"/>
<circle cx="618" cy="1150.1" r="3.9" fill="#2b2b2b"/>
<circle cx="580" cy="1001" r="3.9" fill="#2b2b2b"/>
<circle cx="580" cy="1016" r="4.8" fill="#111"/>
<g fill="#111">
<path d="M146 995.8V1003H159.4Z"/>
<path d="M168.2 1211.6H182.4V1204Z"/>
<path d="M278.6 1211.6H292.6V1204Z"/>
<path d="M574.2 965.4H582.2V978.6Z"/>
<path d="M612.2 1030H621.2V1044Z"/>
<path d="M748 1015.2H759.4V1008.6Z"/>
</g>
<text x="136.8" y="1030.8" fill="#4ea52f" stroke="#4ea52f" stroke-width="0.3" font-size="14.4" font-weight="normal" text-anchor="start" textLength="87" lengthAdjust="spacingAndGlyphs">热水回水管道</text>
<text x="232.8" y="1030.8" fill="#4ea52f" stroke="#4ea52f" stroke-width="0.3" font-size="14.4" font-weight="normal" text-anchor="start" textLength="43.4" lengthAdjust="spacingAndGlyphs">除污器</text>
<text x="136.8" y="1046" fill="#3c2a2a" font-size="10.8" font-family="'Liberation Serif',serif" textLength="67.5" lengthAdjust="spacingAndGlyphs">Hot water return pipe</text>
<text x="229" y="1046" fill="#3c2a2a" font-size="10.8" font-family="'Liberation Serif',serif" textLength="54.8" lengthAdjust="spacingAndGlyphs">Decontamination</text>
<text x="387" y="1060.2" fill="#111" font-size="12.4" textLength="37" lengthAdjust="spacingAndGlyphs">冷凝器</text>
<text x="386.6" y="1068.3" fill="#3a1c1c" font-size="9.6" font-family="'Liberation Serif',serif" textLength="35.4" lengthAdjust="spacingAndGlyphs">Condenser</text>
<text x="419.4" y="1157.4" fill="#a98b33" stroke="#a98b33" stroke-width="0.3" font-size="13.8" font-weight="normal" text-anchor="start" textLength="41" lengthAdjust="spacingAndGlyphs">污水池</text>
<text x="419.4" y="1168.8" fill="#3c2a2a" font-size="10.8" font-family="'Liberation Serif',serif" textLength="30" lengthAdjust="spacingAndGlyphs">Cesspool</text>
<text x="140.2" y="1236.6" fill="#e0382c" stroke="#e0382c" stroke-width="0.3" font-size="14.2" font-weight="normal" text-anchor="start" textLength="84.8" lengthAdjust="spacingAndGlyphs">热水出水管道</text>
<text x="140.6" y="1251.6" fill="#3c2a2a" font-size="10.8" font-family="'Liberation Serif',serif" textLength="50.6" lengthAdjust="spacingAndGlyphs">Hot water pipes</text>
<text x="344.6" y="1248" fill="#e0382c" stroke="#e0382c" stroke-width="0.3" font-size="14.2" font-weight="normal" text-anchor="start" textLength="42.2" lengthAdjust="spacingAndGlyphs">循环泵</text>
<text x="338.8" y="1261.2" fill="#3c2a2a" font-size="10.8" font-family="'Liberation Serif',serif" textLength="56.8" lengthAdjust="spacingAndGlyphs">Circulation pump</text>
<text x="519.5" y="944.8" fill="#a98b33" stroke="#a98b33" stroke-width="0.3" font-size="14.2" font-weight="normal" text-anchor="start" textLength="57" lengthAdjust="spacingAndGlyphs">溢排水管</text>
<text x="519" y="959.8" fill="#3c2a2a" font-size="10.8" font-family="'Liberation Serif',serif" textLength="49" lengthAdjust="spacingAndGlyphs">Overflow drain</text>
<text x="605" y="957.6" fill="#fff" stroke="#fff" stroke-width="0.3" font-size="14.2" font-weight="normal" text-anchor="start" textLength="28.8" lengthAdjust="spacingAndGlyphs">水箱</text>
<text x="612" y="969" fill="#fff" font-size="9.6" font-family="'Liberation Serif',serif" textLength="17" lengthAdjust="spacingAndGlyphs">Tank</text>
<text x="579" y="912.8" fill="#111" font-size="8.8" font-weight="bold" textLength="11.6" lengthAdjust="spacingAndGlyphs">DN</text>
<text x="699" y="989.8" fill="#1d9ad6" stroke="#1d9ad6" stroke-width="0.3" font-size="14.2" font-weight="normal" text-anchor="start" textLength="70.4" lengthAdjust="spacingAndGlyphs">自来水管道</text>
<text x="697.8" y="1001.2" fill="#3c2a2a" font-size="10.8" font-family="'Liberation Serif',serif" textLength="47.2" lengthAdjust="spacingAndGlyphs">Running water</text>
<text x="673.6" y="1083" fill="#a98b33" stroke="#a98b33" stroke-width="0.3" font-size="14.2" font-weight="normal" text-anchor="start" textLength="42.6" lengthAdjust="spacingAndGlyphs">水处理</text>
<text x="669.2" y="1095.8" fill="#3c2a2a" font-size="10.8" font-family="'Liberation Serif',serif" textLength="52.4" lengthAdjust="spacingAndGlyphs">Water Deal with</text>
<text x="648.8" y="1120.8" fill="#4fb5ae" stroke="#4fb5ae" stroke-width="0.3" font-size="14.2" font-weight="normal" text-anchor="start" textLength="42.2" lengthAdjust="spacingAndGlyphs">定压泵</text>
<text x="648.5" y="1132" fill="#3c2a2a" font-size="10.8" font-family="'Liberation Serif',serif" textLength="43.6" lengthAdjust="spacingAndGlyphs">Supply pump</text>
<text transform="translate(576.4 1200.4) rotate(-90)" fill="#f0941c" font-size="14.2" stroke="#f0941c" stroke-width="0.3" textLength="70.2" lengthAdjust="spacingAndGlyphs">接燃气管道</text>
<text transform="translate(590.6 1199) rotate(-90)" fill="#3c2a2a" font-size="10.8" font-family="'Liberation Serif',serif" textLength="56" lengthAdjust="spacingAndGlyphs">Then gas pipeline</text>
</svg>
</div>
</body></html>
